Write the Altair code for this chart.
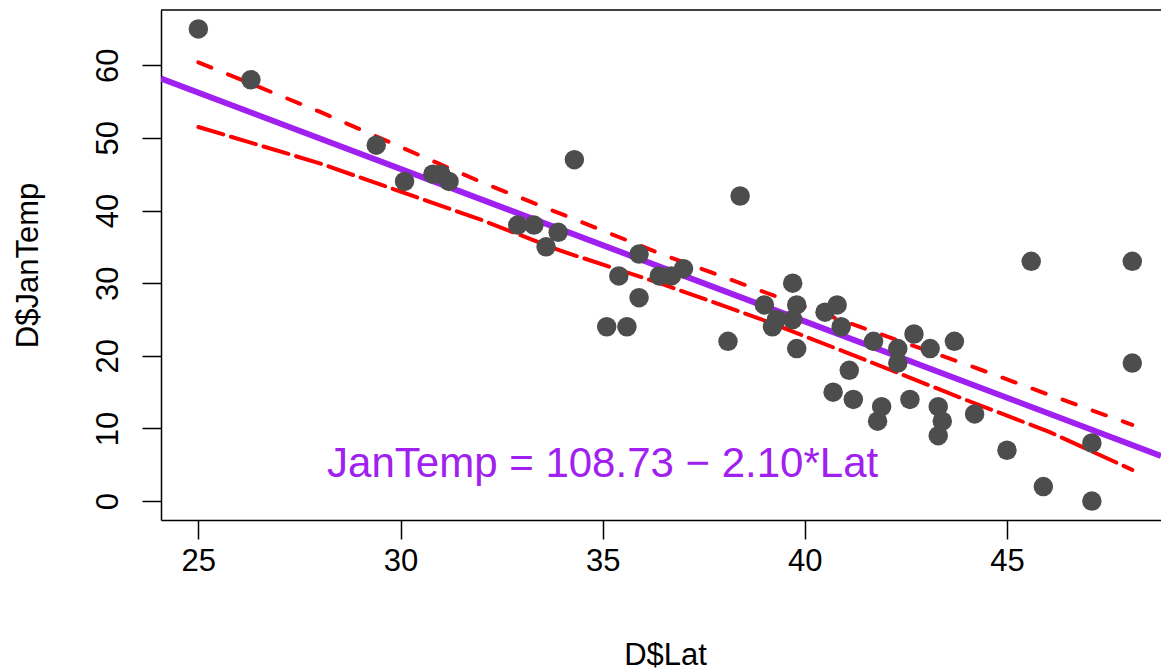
import altair as alt
import pandas as pd

# Observed points (Lat, JanTemp)
lat = [25.0, 26.3, 29.4, 30.1, 30.8, 31.0, 31.2, 32.9, 33.3, 33.6, 33.9, 34.3,
       35.1, 35.4, 35.6, 35.9, 35.9, 36.4, 36.7, 37.0, 38.1, 38.4, 39.0, 39.2,
       39.3, 39.7, 39.8, 39.7, 39.8, 40.5, 40.8, 40.9, 40.7, 41.1, 41.2, 41.7,
       41.8, 41.9, 42.3, 42.3, 42.6, 42.7, 43.1, 43.3, 43.3, 43.4, 43.7, 44.2,
       45.0, 45.6, 45.9, 47.1, 47.1, 48.1, 48.1]
jantemp = [65, 58, 49, 44, 45, 45, 44, 38, 38, 35, 37, 47,
           24, 31, 24, 34, 28, 31, 31, 32, 22, 42, 27, 24,
           25, 30, 27, 25, 21, 26, 27, 24, 15, 18, 14, 22,
           11, 13, 21, 19, 14, 23, 21, 13, 9, 11, 22, 12,
           7, 33, 2, 8, 0, 33, 19]

# Fitted line endpoints (abline across plot region)
fit_x = [24.076, 48.81]
fit_y = [58.17, 6.23]

# Confidence band readings
band_x = [25.0, 28.0, 32.0, 33.94, 36.41, 38.89, 41.1, 44.0, 46.06, 48.1]
band_upper = [60.4, 53.6, 43.9, 39.6, 34.1, 29.0, 24.5, 18.8, 14.6, 10.5]
band_lower = [51.5, 46.5, 38.7, 34.5, 30.0, 25.1, 20.3, 13.9, 9.5, 4.3]

x_ticks = [25, 30, 35, 40, 45]
y_ticks = [0, 10, 20, 30, 40, 50, 60]

FONT = "Liberation Sans"
XDOM = [24.076, 48.81]
YDOM = [-2.6, 67.6]

pts = pd.DataFrame({"Lat": lat, "JanTemp": jantemp})
fit = pd.DataFrame({"Lat": fit_x, "JanTemp": fit_y})
band = pd.DataFrame({"Lat": band_x, "upr": band_upper, "lwr": band_lower})
eq = pd.DataFrame({"Lat": [35.0], "JanTemp": [3.3], "label": ["JanTemp = 108.73 \u2212 2.10*Lat"]})

xscale = alt.Scale(domain=XDOM, nice=False, zero=False)
yscale = alt.Scale(domain=YDOM, nice=False, zero=False)

xaxis = alt.Axis(values=x_ticks, title="D$Lat", grid=False, tickSize=19, tickWidth=1.5,
                 tickColor="black", domainColor="black", domainWidth=1.5,
                 labelFont=FONT, labelFontSize=31, labelColor="black",
                 labelBaseline="alphabetic", labelPadding=31, labelFlush=False,
                 titleFont=FONT, titleFontSize=31, titleFontWeight="normal", titleColor="black",
                 titleX=504, titleY=144, titleBaseline="alphabetic", titleAlign="center")
yaxis = alt.Axis(values=y_ticks, title="D$JanTemp", grid=False, tickSize=19, tickWidth=1.5,
                 tickColor="black", domainColor="black", domainWidth=1.5,
                 labelFont=FONT, labelFontSize=31, labelColor="black", labelAngle=-90,
                 labelAlign="center", labelBaseline="alphabetic", labelPadding=25, labelFlush=False,
                 titleFont=FONT, titleFontSize=31, titleFontWeight="normal", titleColor="black",
                 titleAngle=-90, titleX=-124, titleY=255, titleAlign="center",
                 titleBaseline="alphabetic")

points = alt.Chart(pts).mark_circle(color="#4D4D4D", opacity=1, size=380).encode(
    x=alt.X("Lat:Q", scale=xscale, axis=xaxis),
    y=alt.Y("JanTemp:Q", scale=yscale, axis=yaxis),
)

fitline = alt.Chart(fit).mark_line(color="#A020F0", strokeWidth=6, clip=True).encode(
    x=alt.X("Lat:Q", scale=xscale), y=alt.Y("JanTemp:Q", scale=yscale))

upper = alt.Chart(band).mark_line(color="#FF0000", strokeWidth=4, strokeDash=[14, 18],
                                  strokeCap="round").encode(
    x=alt.X("Lat:Q", scale=xscale), y=alt.Y("upr:Q", scale=yscale))
lower = alt.Chart(band).mark_line(color="#FF0000", strokeWidth=4, strokeDash=[26, 8],
                                  strokeCap="round").encode(
    x=alt.X("Lat:Q", scale=xscale), y=alt.Y("lwr:Q", scale=yscale))

text = alt.Chart(eq).mark_text(color="#A020F0", font=FONT, fontSize=42, align="center",
                               baseline="alphabetic").encode(
    x=alt.X("Lat:Q", scale=xscale), y=alt.Y("JanTemp:Q", scale=yscale), text="label:N")

topline = alt.Chart(eq).mark_rule(color="black", strokeWidth=1.5).encode(
    x=alt.value(0), x2=alt.value(1000), y=alt.value(0))

chart = alt.layer(fitline, upper, lower, points, text, topline).properties(
    width=1000, height=510,
    autosize=alt.AutoSizeParams(type="none"),
    padding={"left": 161, "top": 10, "right": 0, "bottom": 150},
    background="white",
).configure_view(stroke=None)

chart.save("out.html", embed_options={"renderer": "svg", "actions": False})
